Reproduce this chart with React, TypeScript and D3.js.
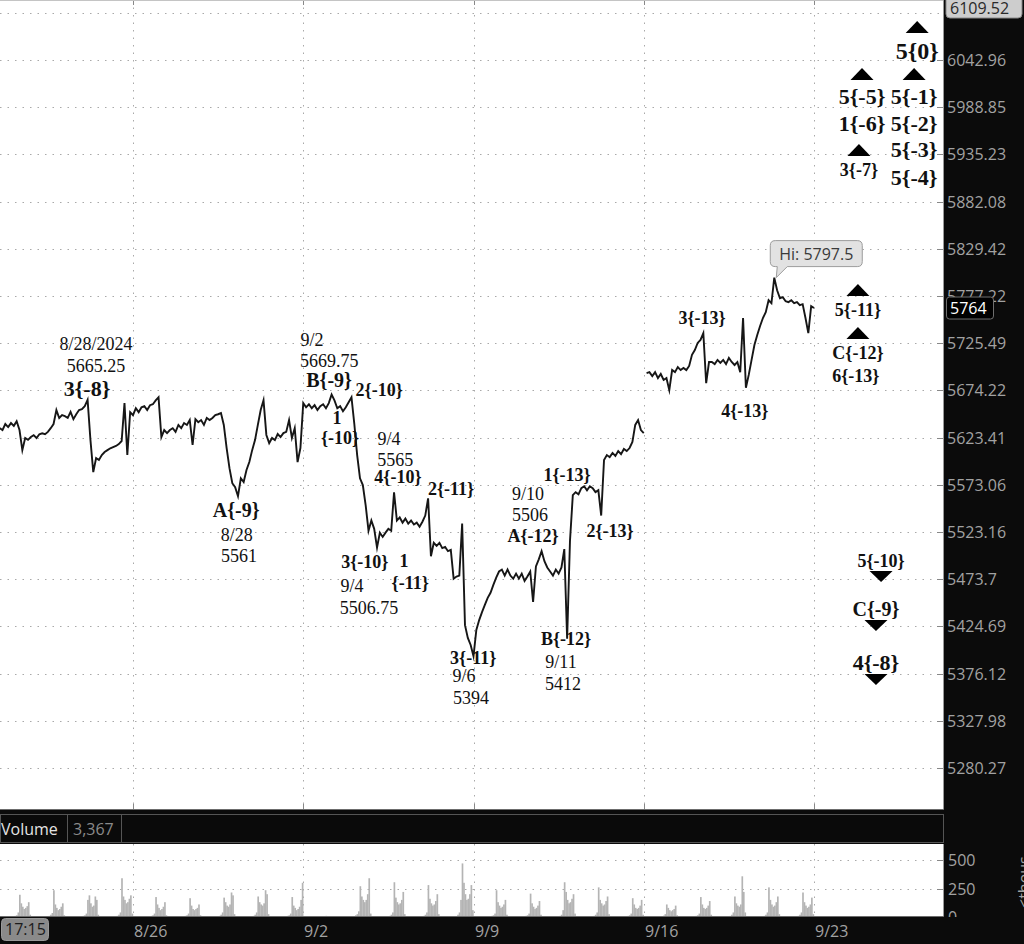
import React from 'react';
import * as d3 from 'd3';

// ---------- DATA ----------
// x unit: trading session, 0 = 8/26 session
const dateTicks = [0, 5, 10, 15, 20];
const dateLabels = ['8/26', '9/2', '9/9', '9/16', '9/23'];

const priceTicks = [6042.96, 5988.85, 5935.23, 5882.08, 5829.42, 5777.22, 5725.49, 5674.22, 5623.41, 5573.06, 5523.16, 5473.7, 5424.69, 5376.12, 5327.98, 5280.27];
const priceTickLabels = ['6042.96', '5988.85', '5935.23', '5882.08', '5829.42', '5777.22', '5725.49', '5674.22', '5623.41', '5573.06', '5523.16', '5473.7', '5424.69', '5376.12', '5327.98', '5280.27'];
const extraGrid = [6097.56];
const topLabel = '6109.52';
const lastPrice = 5764;

// ES Sep contract, 12 samples per session from session -4 (8/20) to the 9/13 close
const esuStart = -4;
const esu = [
  5633.5, 5633.5, 5631.5, 5638, 5634.75, 5639, 5636, 5641, 5631.5, 5610, 5623, 5621,
  5624, 5626, 5623, 5627, 5628, 5627, 5629.5, 5633.5, 5638, 5653, 5644.5, 5647.5,
  5646.5, 5644.5, 5651, 5643.25, 5648.5, 5653, 5654, 5657.25, 5664, 5621, 5586.5, 5601.5,
  5599.5, 5604.75, 5608, 5610, 5612, 5613.25, 5614.5, 5616.5, 5619.75, 5660.5, 5604.75, 5650.75,
  5647.5, 5655, 5650.75, 5656, 5657.25, 5653, 5658.25, 5659.25, 5663.5, 5666.75, 5624, 5631.5,
  5628.25, 5631.5, 5633.5, 5629.5, 5637, 5633.5, 5639, 5637, 5642.25, 5615.5, 5643.25, 5640,
  5642.25, 5637, 5644.5, 5642.25, 5644.5, 5647.5, 5648.5, 5649.75, 5637, 5612.25, 5590.75, 5574.75,
  5570.5, 5561, 5580, 5576, 5588.75, 5597.25, 5610, 5620.75, 5637, 5653, 5663.5, 5626.25,
  5617.5, 5623, 5620.75, 5627.25, 5624, 5628.25, 5629.5, 5642.25, 5623, 5633.5, 5597.25, 5612.25,
  5660.5, 5656, 5659.25, 5655, 5658.25, 5653, 5657.25, 5659.25, 5655, 5660.5, 5669.75, 5663.5,
  5655, 5657.25, 5651.75, 5656, 5661.5, 5666.75, 5638, 5604.75, 5580, 5572.75, 5551.25, 5524.5,
  5535.25, 5526.5, 5506.75, 5522.5, 5518, 5522.5, 5526.5, 5524.5, 5565, 5535.25, 5538.5, 5533,
  5537.25, 5532, 5535.25, 5531, 5533, 5528.75, 5534, 5540.5, 5558.75, 5497.75, 5511.75, 5508.5,
  5511.75, 5506.25, 5507.5, 5503, 5504.25, 5474.25, 5476.5, 5477.5, 5532, 5426, 5412.75, 5405.5,
  5394, 5421, 5431.25, 5439.5, 5447, 5454.25, 5459.5, 5467.75, 5475.25, 5481.75, 5483.75, 5477.5,
  5483.75, 5477.5, 5474.25, 5479.5, 5474.25, 5479.5, 5472, 5476.5, 5481.75, 5450, 5487, 5494.5,
  5503, 5492.5, 5486, 5481.75, 5477.5, 5483.75, 5479.5, 5486, 5505.25, 5412, 5513.75, 5562,
  5565.25, 5563, 5569.5, 5571.5, 5567.25, 5571.5, 5569.5, 5565.25, 5567.25, 5540.5, 5599.5, 5604.75,
  5602.5, 5607, 5603.75, 5609, 5605.75, 5611.25, 5609, 5612.25, 5618.75, 5637, 5642.25, 5631.5,
  5628.25,
];

// ES Dec contract after the roll, 9/16 - 9/20
const eszStart = 15 + 1 / 12;
const esz = [
  5693, 5694, 5689.75, 5694, 5687.5, 5692, 5685.5, 5687.5, 5674.5, 5696.25, 5694, 5699.5,
  5696.25, 5698.5, 5696.25, 5700.75, 5712.75, 5718, 5725.75, 5729, 5736.5, 5682, 5705, 5705,
  5702.75, 5707.25, 5704, 5707.25, 5702.75, 5709.5, 5705, 5701.75, 5705, 5694, 5753, 5677,
  5691, 5707.25, 5723.5, 5734.5, 5744.25, 5753, 5759.5, 5772.5, 5769.25, 5797.5, 5783.5,
  5774.75, 5776, 5771.5, 5770.5, 5772.5, 5769.25, 5770.5, 5767.25, 5768.25, 5753, 5736.5, 5766,
  5764,
];

// Volume (thousands), hourly bars 6:00 .. 16:00 ET for each session
const volSessions = ['8/20', '8/21', '8/22', '8/23', '8/26', '8/27', '8/28', '8/29', '8/30', '9/2', '9/3', '9/4', '9/5', '9/6', '9/9', '9/10', '9/11', '9/12', '9/13', '9/16', '9/17', '9/18', '9/19', '9/20'];
const volHours = [6, 7, 8, 9, 10, 11, 12, 13, 14, 15, 16];
const volume = [
  [10, 15, 40, 195, 120, 90, 70, 80, 95, 130, 20],
  [10, 20, 35, 235, 110, 80, 60, 70, 90, 120, 15],
  [10, 15, 30, 150, 190, 120, 90, 100, 180, 150, 20],
  [10, 20, 40, 340, 180, 150, 120, 130, 160, 190, 30],
  [10, 15, 30, 175, 110, 80, 60, 70, 90, 130, 15],
  [10, 15, 30, 165, 100, 70, 60, 70, 80, 110, 15],
  [10, 20, 40, 170, 130, 100, 90, 110, 215, 190, 25],
  [10, 20, 40, 180, 130, 110, 100, 120, 235, 200, 25],
  [10, 15, 30, 175, 100, 80, 60, 70, 90, 150, 300],
  [5, 5, 8, 10, 8, 6, 5, 5, 6, 8, 3],
  [15, 25, 50, 270, 180, 150, 130, 150, 200, 340, 30],
  [10, 20, 40, 305, 170, 130, 110, 120, 150, 220, 25],
  [10, 20, 40, 280, 160, 120, 100, 110, 140, 200, 25],
  [20, 40, 150, 470, 300, 200, 150, 160, 200, 280, 60],
  [10, 15, 30, 235, 130, 100, 80, 90, 110, 150, 20],
  [10, 15, 30, 205, 120, 90, 70, 80, 100, 140, 20],
  [10, 20, 60, 305, 220, 150, 120, 130, 160, 200, 30],
  [10, 20, 40, 260, 150, 120, 100, 110, 140, 180, 25],
  [10, 15, 30, 165, 110, 80, 70, 80, 100, 150, 20],
  [8, 12, 25, 110, 80, 60, 50, 60, 70, 100, 15],
  [10, 15, 30, 175, 110, 80, 70, 80, 100, 140, 20],
  [10, 20, 40, 180, 120, 100, 90, 110, 357, 220, 40],
  [10, 20, 40, 260, 150, 110, 90, 100, 130, 180, 25],
  [10, 20, 40, 215, 130, 100, 80, 90, 110, 170, 25],
];
const volTicks = [500, 250, 0];
const volumeReadout = '3,367';
const crosshairTime = '17:15';

// Annotations: [text, session position, price, style, marker]
const annotations: [string, number, number, string, string?][] = [
  ['8/28/2024', -1.09, 5718.1, 'note'],
  ['5665.25', -1.09, 5694.2, 'note'],
  ['3{-8}', -1.35, 5668.2, 'waveL'],
  ['9/2', 5.26, 5722.5, 'note'],
  ['5669.75', 5.76, 5699.6, 'note'],
  ['B{-9}', 5.76, 5677.9, 'waveM'],
  ['2{-10}', 7.23, 5668.2, 'wave'],
  ['1', 5.99, 5638.1, 'wave'],
  ['{-10}', 6.08, 5616.6, 'wave'],
  ['9/4', 7.52, 5615.5, 'note'],
  ['5565', 7.7, 5593.2, 'note'],
  ['4{-10}', 7.78, 5575.5, 'wave'],
  ['2{-11}', 9.34, 5562.3, 'wave'],
  ['3{-10}', 6.81, 5485.4, 'wave'],
  ['1', 7.96, 5486.5, 'wave'],
  ['{-11}', 8.14, 5463.5, 'wave'],
  ['9/4', 6.43, 5460.4, 'note'],
  ['5506.75', 6.93, 5437.6, 'note'],
  ['3{-11}', 9.99, 5385.6, 'wave'],
  ['9/6', 9.72, 5367.2, 'note'],
  ['5394', 9.93, 5344.6, 'note'],
  ['9/10', 11.6, 5557.0, 'note'],
  ['5506', 11.66, 5534.8, 'note'],
  ['A{-12}', 11.75, 5512.7, 'wave'],
  ['1{-13}', 12.75, 5577.1, 'wave'],
  ['2{-13}', 14.01, 5517.9, 'wave'],
  ['B{-12}', 12.72, 5405.5, 'wave'],
  ['9/11', 12.57, 5381.9, 'note'],
  ['5412', 12.63, 5359.4, 'note'],
  ['A{-9}', 3.03, 5539.0, 'waveM'],
  ['8/28', 3.05, 5513.7, 'note'],
  ['5561', 3.11, 5491.7, 'note'],
  ['3{-13}', 16.71, 5746.5, 'wave'],
  ['4{-13}', 17.97, 5645.6, 'wave'],
  ['5{-11}', 21.29, 5755.3, 'wave', 'up'],
  ['C{-12}', 21.29, 5708.3, 'wave', 'up'],
  ['6{-13}', 21.23, 5683.4, 'wave'],
  ['5{0}', 23.03, 6044.1, 'waveXL', 'up'],
  ['5{-5}', 21.41, 5992.5, 'waveL', 'up'],
  ['5{-1}', 22.94, 5992.5, 'waveL', 'up'],
  ['1{-6}', 21.41, 5961.8, 'waveL'],
  ['5{-2}', 22.94, 5961.8, 'waveL'],
  ['5{-3}', 22.94, 5932.3, 'waveL'],
  ['3{-7}', 21.32, 5910.9, 'wave', 'up'],
  ['5{-4}', 22.94, 5900.8, 'waveL'],
  ['5{-10}', 21.97, 5486.5, 'wave', 'down'],
  ['C{-9}', 21.82, 5435.5, 'waveM', 'down'],
  ['4{-8}', 21.82, 5379.8, 'waveL', 'down'],
];

// ---------- STYLE ----------
const W = 1024;
const H = 944;
const PLOT_R = 943;
const PRICE_B = 809;
const VOL_T = 844;
const VOL_B = 917;
const SANS = "'Open Sans', 'Noto Sans', sans-serif";
const SERIF = "'Liberation Serif', 'Times New Roman', serif";
const AXIS_TEXT = '#a2a2a2';
const GRID = '#a9a9a9';
const kindStyle: Record<string, { size: number; weight: number }> = {
  note: { size: 18, weight: 400 },
  wave: { size: 18, weight: 700 },
  waveM: { size: 20, weight: 700 },
  waveL: { size: 22, weight: 700 },
  waveXL: { size: 24, weight: 700 },
};

export default function App() {
  const x = d3.scaleLinear().domain([0, 20]).range([133, 814]);
  const y = d3.scaleLog().domain([5280.27, 6042.96]).range([768, 60]);
  const yv = d3.scaleLinear().domain([0, 500]).range([VOL_B, 860]);

  const esuPts: [number, number][] = esu.map((p, i) => [esuStart + i / 12, p]);
  const eszPts: [number, number][] = esz.map((p, j) => [eszStart + j / 12, p]);
  const line = d3
    .line<[number, number]>()
    .x((d) => x(d[0]))
    .y((d) => y(d[1]));

  const hiIdx = d3.maxIndex(esz);
  const hx = x(eszPts[hiIdx][0]);
  const hy = y(eszPts[hiIdx][1]);
  const bx0 = hx - 4;
  const bx1 = hx + 88;
  const by0 = hy - 37;
  const by1 = hy - 11;
  const r = 5;
  const calloutPath = `M${bx0 + r},${by0} H${bx1 - r} Q${bx1},${by0} ${bx1},${by0 + r} V${by1 - r} Q${bx1},${by1} ${bx1 - r},${by1} H${hx + 13} L${hx + 2},${hy} L${hx + 3},${by1} H${bx0 + r} Q${bx0},${by1} ${bx0},${by1 - r} V${by0 + r} Q${bx0},${by0} ${bx0 + r},${by0} Z`;

  const hourW = x(1 / 23) - x(0);
  const volBars: { x: number; y: number; h: number; k: string }[] = [];
  volume.forEach((arr, s) => {
    arr.forEach((v, k) => {
      const d0 = s - 4 + (volHours[k] + 6) / 23;
      volBars.push({ x: x(d0), y: yv(v), h: VOL_B - yv(v), k: `${volSessions[s]}-${k}` });
    });
  });

  const gridVals = [...extraGrid, ...priceTicks];
  const lastY = y(lastPrice);

  return (
    <div style={{ position: 'absolute', left: 0, top: 0 }}>
      <svg width={W} height={H} style={{ display: 'block' }}>
        <defs>
          <clipPath id="pc">
            <rect x={0} y={0} width={PLOT_R} height={PRICE_B} />
          </clipPath>
          <clipPath id="vc">
            <rect x={0} y={VOL_T} width={PLOT_R} height={VOL_B - VOL_T} />
          </clipPath>
          <clipPath id="vac">
            <rect x={PLOT_R} y={VOL_T} width={W - PLOT_R} height={VOL_B - VOL_T} />
          </clipPath>
        </defs>
        <rect x={0} y={0} width={W} height={H} fill="#0b0b0b" />
        <rect x={0} y={0} width={PLOT_R} height={PRICE_B} fill="#ffffff" />
        <rect x={0} y={VOL_T} width={PLOT_R} height={VOL_B - VOL_T} fill="#ffffff" />

        {/* price grid */}
        <g clipPath="url(#pc)">
          {gridVals.map((v) => (
            <line key={`hg${v}`} x1={0} x2={PLOT_R} y1={Math.round(y(v)) + 0.5} y2={Math.round(y(v)) + 0.5} stroke={GRID} strokeDasharray="1.5 6" />
          ))}
          {dateTicks.map((d) => (
            <line key={`vg${d}`} x1={Math.round(x(d)) + 0.5} x2={Math.round(x(d)) + 0.5} y1={0} y2={PRICE_B} stroke={GRID} strokeDasharray="1.5 6" />
          ))}
          {dateTicks.map((d) => (
            <g key={`vt${d}`}>
              <line x1={Math.round(x(d)) + 0.5} x2={Math.round(x(d)) + 0.5} y1={0} y2={5} stroke="#888" />
              <line x1={Math.round(x(d)) + 0.5} x2={Math.round(x(d)) + 0.5} y1={PRICE_B - 5} y2={PRICE_B} stroke="#888" />
            </g>
          ))}
          {priceTicks.map((v) => (
            <line key={`rt${v}`} x1={937} x2={PLOT_R} y1={Math.round(y(v)) + 0.5} y2={Math.round(y(v)) + 0.5} stroke="#888" />
          ))}
          <path d={line(esuPts) || ''} fill="none" stroke="#161616" strokeWidth={1.9} strokeLinejoin="miter" strokeMiterlimit={6} />
          <path d={line(eszPts) || ''} fill="none" stroke="#161616" strokeWidth={1.9} strokeLinejoin="miter" strokeMiterlimit={6} />

          {annotations.map(([t, d, p, kind, marker], i) => {
            const st = kindStyle[kind];
            const cx = x(d);
            const by = y(p);
            let tri: string | null = null;
            if (marker === 'up') {
              const b = by - st.size - 2;
              tri = `${cx - 11.5},${b} ${cx + 11.5},${b} ${cx},${b - 12}`;
            } else if (marker === 'down') {
              const t0 = by + 4;
              tri = `${cx - 11.5},${t0} ${cx + 11.5},${t0} ${cx},${t0 + 11}`;
            }
            return (
              <g key={`an${i}`}>
                {tri && <polygon points={tri} fill="#000" />}
                <text x={cx} y={by} textAnchor="middle" fontFamily={SERIF} fontSize={st.size} fontWeight={st.weight} fill="#111">
                  {t}
                </text>
              </g>
            );
          })}

          <path d={calloutPath} fill="#e2e2e2" stroke="#9c9c9c" strokeWidth={1} />
          <text x={(bx0 + bx1) / 2} y={by1 - 7} textAnchor="middle" fontFamily={SANS} fontSize={16} fill="#3a3a3a">
            {`Hi: ${d3.max(esz)}`}
          </text>
        </g>

        {/* panel borders */}
        <line x1={0} x2={PLOT_R} y1={0.5} y2={0.5} stroke="#c4c4c4" />
        <line x1={PLOT_R + 0.5} x2={PLOT_R + 0.5} y1={0} y2={PRICE_B} stroke="#9a9a9a" />
        <line x1={0} x2={PLOT_R + 1} y1={PRICE_B + 0.5} y2={PRICE_B + 0.5} stroke="#6c6c6c" />

        {/* right price axis */}
        {priceTicks.map((v, i) => (
          <text key={`pl${v}`} x={947} y={y(v) + 6} fontFamily={SANS} fontSize={16} fill={AXIS_TEXT}>
            {priceTickLabels[i]}
          </text>
        ))}
        <rect x={946} y={-6} width={76} height={24} rx={4} fill="#cdcdcd" stroke="#8a8a8a" />
        <text x={950} y={14} fontFamily={SANS} fontSize={16} fill="#2a2a2a">
          {topLabel}
        </text>
        <rect x={946.5} y={lastY - 11} width={47} height={22} rx={3} fill="#000" stroke="#6e6e6e" />
        <text x={950} y={lastY + 6} fontFamily={SANS} fontSize={16} fill="#ffffff">
          {String(lastPrice)}
        </text>

        {/* volume header */}
        <rect x={0.5} y={814.5} width={PLOT_R} height={28} fill="#0a0a0a" stroke="#555" />
        <line x1={67.5} x2={67.5} y1={815} y2={842} stroke="#555" />
        <line x1={121.5} x2={121.5} y1={815} y2={842} stroke="#555" />
        <text x={1} y={835} fontFamily={SANS} fontSize={16} fill="#e4e4e4">
          Volume
        </text>
        <text x={73} y={835} fontFamily={SANS} fontSize={16} fill="#8a8a8a">
          {volumeReadout}
        </text>

        {/* volume panel */}
        <g clipPath="url(#vc)">
          {[500, 250].map((v) => (
            <line key={`vgl${v}`} x1={0} x2={PLOT_R} y1={Math.round(yv(v)) + 0.5} y2={Math.round(yv(v)) + 0.5} stroke={GRID} strokeDasharray="1.5 6" />
          ))}
          {dateTicks.map((d) => (
            <line key={`vvg${d}`} x1={Math.round(x(d)) + 0.5} x2={Math.round(x(d)) + 0.5} y1={VOL_T} y2={VOL_B} stroke={GRID} strokeDasharray="1.5 6" />
          ))}
          {[500, 250].map((v) => (
            <line key={`vrt${v}`} x1={937} x2={PLOT_R} y1={Math.round(yv(v)) + 0.5} y2={Math.round(yv(v)) + 0.5} stroke="#888" />
          ))}
          {volBars.map((b) => (
            <rect key={b.k} x={b.x} y={b.y} width={hourW + 0.2} height={b.h} fill="#b4b4b4" />
          ))}
        </g>
        <line x1={PLOT_R + 0.5} x2={PLOT_R + 0.5} y1={VOL_T} y2={VOL_B} stroke="#9a9a9a" />
        <line x1={0} x2={PLOT_R + 1} y1={VOL_B - 0.5} y2={VOL_B - 0.5} stroke="#6c6c6c" />
        <g clipPath="url(#vac)">
          {volTicks.map((v) => (
            <text key={`vl${v}`} x={948} y={yv(v) + 6} fontFamily={SANS} fontSize={16} fill={AXIS_TEXT}>
              {String(v)}
            </text>
          ))}
        </g>
        <text transform={`translate(1030, 908) rotate(-90)`} fontFamily={SANS} fontSize={16} fill={AXIS_TEXT}>
          {'<thous'}
        </text>

        {/* bottom time axis */}
        {dateTicks.map((d, i) => (
          <text key={`dl${d}`} x={Math.round(x(d)) + 1} y={937} fontFamily={SANS} fontSize={16} fill={AXIS_TEXT}>
            {dateLabels[i]}
          </text>
        ))}
        <rect x={1.5} y={918.5} width={47} height={22} rx={4} fill="#8a8a8a" stroke="#9a9a9a" />
        <text x={5} y={935} fontFamily={SANS} fontSize={16} fill="#1c1c1c">
          {crosshairTime}
        </text>
      </svg>
    </div>
  );
}
